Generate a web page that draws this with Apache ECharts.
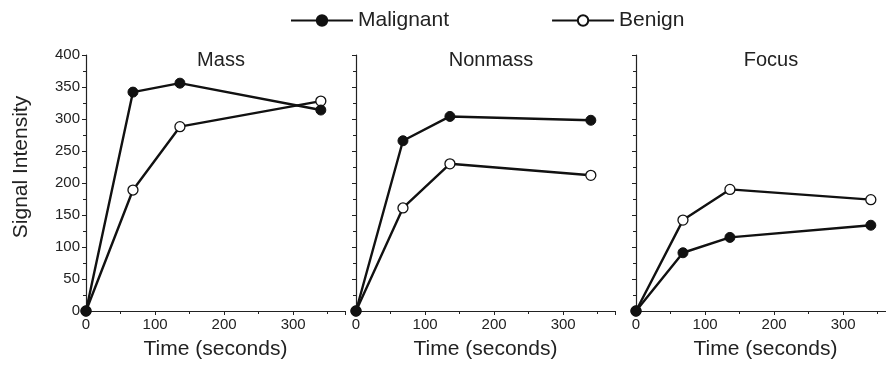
<!DOCTYPE html>
<html>
<head>
<meta charset="utf-8">
<script src="https://cdn.jsdelivr.net/npm/echarts@6/dist/echarts.min.js"></script>
<style>
  html, body { margin: 0; padding: 0; background: #fff; }
  #chart { width: 886px; height: 372px; }
</style>
</head>
<body>
<div id="chart"></div>
<script>
  // time points (seconds)
  var times = [0, 68, 136, 340]
  var panels = ['Mass', 'Nonmass', 'Focus']
  // signal intensity per panel
  var malignant = [
    [0, 342, 356, 314],
    [0, 266, 304, 298],
    [0, 91, 115, 134]
  ]
  var benign = [
    [0, 189, 288, 328],
    [0, 161, 230, 212],
    [0, 142, 190, 174]
  ]
  var yTicks = [0, 50, 100, 150, 200, 250, 300, 350, 400]

  var font = 'Arial, "Liberation Sans", sans-serif'
  var gridLeft = [86, 356, 636]
  var gridW = 259

  function pairs(vals) {
    return times.map(function (t, i) { return [t, vals[i]] })
  }

  var grids = [], xAxes = [], yAxes = [], series = [], titles = []
  panels.forEach(function (name, i) {
    // last panel runs off the right edge like the original
    grids.push({left: gridLeft[i], top: 55, width: gridW, bottom: 61, outerBoundsMode: 'none'})
    titles.push({
      text: name,
      left: gridLeft[i] + 130, top: 45, textAlign: 'center',
      textStyle: {fontFamily: font, fontSize: 20, fontWeight: 'normal', color: '#222'}
    })
    xAxes.push({
      gridIndex: i, type: 'value', min: 0, max: 375, interval: 100,
      name: 'Time (seconds)', nameLocation: 'middle', nameGap: 28,
      nameTextStyle: {fontFamily: font, fontSize: 21, color: '#222'},
      axisLine: {lineStyle: {color: '#222', width: 1.2}},
      axisTick: {show: true, length: 4, lineStyle: {color: '#222'}},
      minorTick: {show: true, splitNumber: 2, length: 3, lineStyle: {color: '#222'}},
      axisLabel: {fontFamily: font, fontSize: 15, color: '#222', margin: 6, showMaxLabel: false},
      splitLine: {show: false}
    })
    yAxes.push({
      gridIndex: i, type: 'value', min: yTicks[0], max: yTicks[yTicks.length - 1], interval: 50,
      name: i === 0 ? 'Signal Intensity' : '', nameLocation: 'middle', nameGap: 54,
      nameTextStyle: {fontFamily: font, fontSize: 21, color: '#222', padding: [0, 0, 0, 32]},
      axisLine: {show: true, lineStyle: {color: '#222', width: 1.2}},
      axisTick: {show: true, length: 4, lineStyle: {color: '#222'}},
      minorTick: {show: true, splitNumber: 2, length: 3, lineStyle: {color: '#222'}},
      axisLabel: {show: i === 0, fontFamily: font, fontSize: 15, color: '#222', margin: 6},
      splitLine: {show: false}
    })
    series.push({
      name: 'Malignant', type: 'line', xAxisIndex: i, yAxisIndex: i,
      data: pairs(malignant[i]),
      symbol: 'circle', symbolSize: 10,
      lineStyle: {color: '#111', width: 2.4},
      itemStyle: {color: '#111', borderColor: '#111', borderWidth: 1},
      z: 3
    })
    series.push({
      name: 'Benign', type: 'line', xAxisIndex: i, yAxisIndex: i,
      data: pairs(benign[i]),
      symbol: 'circle', symbolSize: 10,
      lineStyle: {color: '#111', width: 2.4},
      itemStyle: {color: '#fff', borderColor: '#111', borderWidth: 1.3},
      z: 2
    })
  })

  var myChart = echarts.init(document.getElementById('chart'))
  myChart.setOption({
    animation: false,
    backgroundColor: '#fff',
    title: titles,
    legend: {
      data: ['Malignant', 'Benign'],
      top: 5, left: 285,
      itemWidth: 62, itemHeight: 13, itemGap: 102,
      textStyle: {fontFamily: font, fontSize: 21, color: '#222'}
    },
    grid: grids,
    xAxis: xAxes,
    yAxis: yAxes,
    series: series
  })
</script>
</body>
</html>
